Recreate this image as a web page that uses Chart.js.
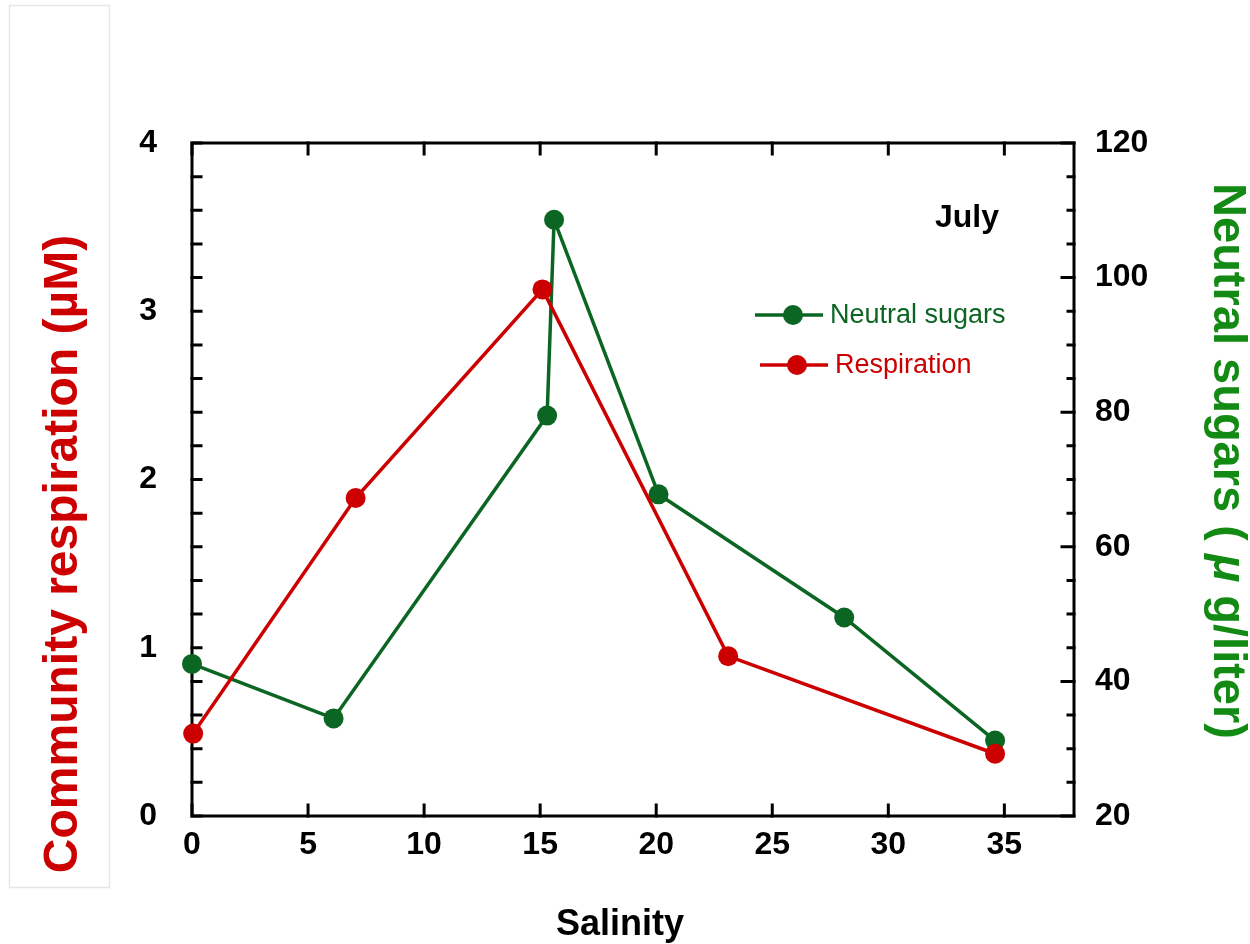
<!DOCTYPE html>
<html lang="en">
<head>
<meta charset="utf-8">
<title>July - respiration and neutral sugars</title>
<script src="https://cdn.jsdelivr.net/npm/chart.js@4/dist/chart.umd.min.js"></script>
<style>
  body { margin: 0; background: #fff; }
  canvas { display: block; }
</style>
</head>
<body>
<canvas id="mycanvas" width="1250" height="944"></canvas>
<script>
// neutral sugars, right axis (ug/liter)
let sugarSal = [0.0, 6.1, 15.3, 15.6, 20.1, 28.1, 34.6];
let sugarVal = [42.6, 34.5, 79.5, 108.6, 67.8, 49.5, 31.2];
// community respiration, left axis (uM)
let respSal = [0.05, 7.05, 15.1, 23.1, 34.6];
let respVal = [0.49, 1.89, 3.13, 0.95, 0.37];

let seriesNames = ["Neutral sugars", "Respiration"];
let seriesColors = ["#0b6623", "#cc0000"];
let panelLabel = "July";

let xRange = [0, 38];  let xStep = 5;
let yRange = [0, 4];   let yStep = 1;   let yMinor = 0.2;
let y2Range = [20, 120]; let y2Step = 20; let y2Minor = 5;

const FONT = "'Liberation Sans', Arial, sans-serif";

function pts(xs, ys) { return xs.map((v, i) => ({x: v, y: ys[i]})); }

// frame + inward ticks, drawn under the data
const framePlugin = {
  id: 'frame',
  beforeDatasetsDraw(chart) {
    const ctx = chart.ctx, a = chart.chartArea;
    const sx = chart.scales.x, sy = chart.scales.y, sy2 = chart.scales.y2;
    ctx.save();
    ctx.strokeStyle = "#000";
    ctx.lineWidth = 3;
    ctx.lineCap = "square";
    ctx.strokeRect(a.left, a.top, a.right - a.left, a.bottom - a.top);
    ctx.beginPath();
    for (let v = xRange[0]; v <= xRange[1]; v += xStep) {
      let p = sx.getPixelForValue(v);
      ctx.moveTo(p, a.bottom); ctx.lineTo(p, a.bottom - 11);
      ctx.moveTo(p, a.top); ctx.lineTo(p, a.top + 11);
    }
    for (let v = yRange[0]; v <= yRange[1] + 1e-9; v += yMinor) {
      let p = sy.getPixelForValue(v);
      ctx.moveTo(a.left, p); ctx.lineTo(a.left + 9, p);
    }
    for (let v = y2Range[0]; v <= y2Range[1]; v += y2Minor) {
      let p = sy2.getPixelForValue(v);
      let len = (v % y2Step === 0) ? 12 : 6;
      ctx.moveTo(a.right, p); ctx.lineTo(a.right - len, p);
    }
    ctx.stroke();
    ctx.restore();
  }
};

// titles, legend and panel label
const textPlugin = {
  id: 'texts',
  afterDraw(chart) {
    const ctx = chart.ctx;
    ctx.save();
    // faint box around the left title
    ctx.strokeStyle = "#e6e6e6";
    ctx.lineWidth = 1.5;
    ctx.strokeRect(9.5, 5.5, 100, 882);

    ctx.textAlign = "center";
    ctx.textBaseline = "middle";

    // left title
    ctx.save();
    ctx.translate(64, 554);
    ctx.rotate(-Math.PI / 2);
    ctx.fillStyle = "#cc0000";
    ctx.font = "bold 48px " + FONT;
    ctx.fillText("Community respiration (\u00b5M)", 0, 0);
    ctx.restore();

    // right title, mu in italics
    ctx.save();
    ctx.translate(1227, 461);
    ctx.rotate(Math.PI / 2);
    ctx.fillStyle = "#138a13";
    ctx.textAlign = "left";
    let parts = [["Neutral sugars ( ", "bold 47px " + FONT], ["\u03bc", "italic bold 47px " + FONT], [" g/liter)", "bold 47px " + FONT]];
    let total = 0;
    parts.forEach(p => { ctx.font = p[1]; total += ctx.measureText(p[0]).width; });
    let cx = -total / 2;
    parts.forEach(p => { ctx.font = p[1]; ctx.fillText(p[0], cx, 0); cx += ctx.measureText(p[0]).width; });
    ctx.restore();

    // x title
    ctx.fillStyle = "#000";
    ctx.font = "bold 36px " + FONT;
    ctx.textBaseline = "alphabetic";
    ctx.fillText("Salinity", 620, 935);

    // panel label
    ctx.font = "bold 32px " + FONT;
    ctx.fillText(panelLabel, 967, 227);

    // legend
    let legendRows = [[755, 823, 793, 315], [760, 828, 797, 365]];
    ctx.textAlign = "left";
    ctx.textBaseline = "middle";
    ctx.font = "27px " + FONT;
    seriesNames.forEach((name, i) => {
      let r = legendRows[i];
      ctx.strokeStyle = seriesColors[i];
      ctx.fillStyle = seriesColors[i];
      ctx.lineWidth = 3.5;
      ctx.beginPath(); ctx.moveTo(r[0], r[3]); ctx.lineTo(r[1], r[3]); ctx.stroke();
      ctx.beginPath(); ctx.arc(r[2], r[3], 10, 0, Math.PI * 2); ctx.fill();
      ctx.fillText(name, r[1] + 7, r[3] + 1);
    });
    ctx.restore();
  }
};

const tickFont = {family: FONT, size: 32, weight: "bold"};

var ctx_live = document.getElementById("mycanvas");
var myChart = new Chart(ctx_live, {
  type: 'scatter',
  data: {
    datasets: [
      {
        label: seriesNames[0],
        data: pts(sugarSal, sugarVal),
        yAxisID: 'y2',
        showLine: true,
        borderColor: seriesColors[0],
        backgroundColor: seriesColors[0],
        borderWidth: 3.5,
        pointRadius: 10,
        pointBorderWidth: 0,
        clip: false,
        order: 1
      },
      {
        label: seriesNames[1],
        data: pts(respSal, respVal),
        yAxisID: 'y',
        showLine: true,
        borderColor: seriesColors[1],
        backgroundColor: seriesColors[1],
        borderWidth: 3.5,
        pointRadius: 10,
        pointBorderWidth: 0,
        clip: false,
        order: 0
      }
    ]
  },
  options: {
    responsive: false,
    animation: false,
    layout: {padding: {top: 143, left: 0, right: 0, bottom: 0}},
    scales: {
      x: {
        type: 'linear',
        min: xRange[0], max: xRange[1],
        grid: {display: false, drawTicks: false},
        border: {display: false},
        ticks: {stepSize: xStep, includeBounds: false, font: tickFont, color: "#000", padding: 10, maxRotation: 0},
        afterFit(s) { s.height = 128; }
      },
      y: {
        position: 'left',
        min: yRange[0], max: yRange[1],
        grid: {display: false, drawTicks: false},
        border: {display: false},
        ticks: {stepSize: yStep, font: tickFont, color: "#000", padding: 35},
        afterFit(s) { s.width = 192; }
      },
      y2: {
        position: 'right',
        min: y2Range[0], max: y2Range[1],
        grid: {display: false, drawTicks: false},
        border: {display: false},
        ticks: {stepSize: y2Step, font: tickFont, color: "#000", padding: 21},
        afterFit(s) { s.width = 176; }
      }
    },
    plugins: {
      legend: {display: false},
      tooltip: {enabled: false}
    }
  },
  plugins: [framePlugin, textPlugin]
});
</script>
</body>
</html>
